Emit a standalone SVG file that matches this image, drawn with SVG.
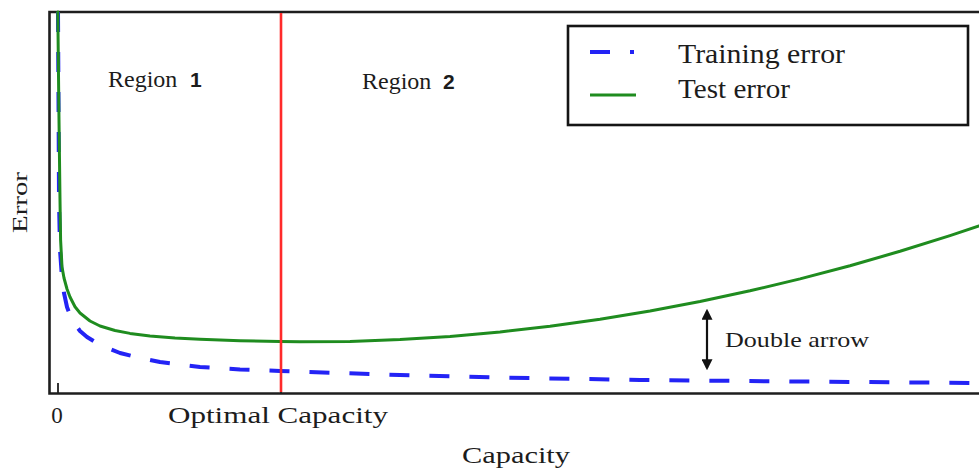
<svg xmlns="http://www.w3.org/2000/svg" width="979" height="473" viewBox="0 0 979 473">
  <style>
    .frame { fill: none; stroke: #1e1e1e; stroke-width: 2.6; }
    .tick { stroke: #1e1e1e; stroke-width: 1.8; }
    .train { fill: none; stroke: #2323f5; stroke-width: 4; stroke-dasharray: 20 20; stroke-linejoin: round; }
    .test { fill: none; stroke: #1f8c1f; stroke-width: 3; stroke-linejoin: round; stroke-linecap: round; }
    .optimal { stroke: #ff2a2a; stroke-width: 2.6; }
    .serif { font-family: "Liberation Serif", "Times New Roman", serif; fill: #1c1c1c; }
    .cm { font-family: "DejaVu Serif", "Liberation Serif", serif; fill: #1c1c1c; }
    .arrow { stroke: #111; stroke-width: 2.2; }
  </style>
  <defs>
    <marker id="head" viewBox="0 0 10 10" refX="8" refY="5" markerWidth="5" markerHeight="5" orient="auto-start-reverse">
      <path d="M0,0 L10,5 L0,10 Z" fill="#111"/>
    </marker>
  </defs>

  <rect width="979" height="473" fill="#ffffff"/>

  <!-- axes frame -->
  <g id="axes">
    <path class="frame" d="M979,12 H49.5 V393.5 H979"/>
    <line class="tick" x1="58" y1="393" x2="58" y2="383"/>
    <line class="tick" x1="281" y1="393" x2="281" y2="383"/>
    <line class="tick" x1="281" y1="12" x2="281" y2="22"/>
  </g>

  <!-- curves -->
  <g id="curves">
    <polyline id="training-error" class="train" points="58,12 58.6,120 59,200 60,250 62,278 64,293 67,307 72,320 80,331 87,337 100,345 120,353 140,358 160,362 200,367 240,369.5 280,371 340,373 400,375 500,377.5 640,380 800,381.5 979,383"/>
    <polyline id="test-error" class="test" points="57.8,12 59,120 60,200 60.6,240 62,267 64,278 67,289 70,297 75,306.8 80,313 90,321 100,326 115,330.5 130,333.4 150,335.9 175,337.9 200,339.2 240,340.7 280,341.6 300,341.8 350,341.4 400,339.6 450,336.4 500,332 550,326.2 600,319.2 650,311 700,301.5 750,290.8 800,278.9 850,265.7 900,251.3 950,235.6 979,226"/>
  </g>

  <!-- optimal capacity marker -->
  <g id="optimal-line">
    <line class="optimal" x1="281" y1="13" x2="281" y2="392"/>
  </g>

  <!-- region labels -->
  <g id="region-1">
    <text class="serif" x="108" y="87" font-size="24">Region</text>
    <text x="190" y="87" font-size="21" font-weight="bold" font-family="Liberation Sans, Arial, sans-serif" fill="#1c1c1c">1</text>
  </g>
  <g id="region-2">
    <text class="serif" x="362" y="89" font-size="24">Region</text>
    <text x="443" y="89" font-size="21" font-weight="bold" font-family="Liberation Sans, Arial, sans-serif" fill="#1c1c1c">2</text>
  </g>

  <!-- legend -->
  <g id="legend">
    <rect x="568" y="26" width="400" height="99" fill="#ffffff" stroke="#151515" stroke-width="2.6"/>
    <line x1="590" y1="52" x2="610" y2="52" stroke="#2323f5" stroke-width="4"/>
    <line x1="630" y1="52" x2="634" y2="52" stroke="#2323f5" stroke-width="4"/>
    <line x1="590" y1="95" x2="636" y2="95" stroke="#1f8c1f" stroke-width="3"/>
    <text class="serif" x="678" y="63" font-size="28" textLength="167" lengthAdjust="spacingAndGlyphs">Training error</text>
    <text class="serif" x="678" y="98" font-size="28" textLength="112" lengthAdjust="spacingAndGlyphs">Test error</text>
  </g>

  <!-- gap annotation -->
  <g id="double-arrow">
    <line class="arrow" x1="707" y1="311" x2="707" y2="368" marker-start="url(#head)" marker-end="url(#head)"/>
    <text class="serif" x="725" y="347" font-size="22" textLength="144" lengthAdjust="spacingAndGlyphs">Double arrow</text>
  </g>

  <!-- axis labels -->
  <g id="axis-labels">
    <text class="serif" x="57" y="423" font-size="23" text-anchor="middle">0</text>
    <text class="serif" x="168" y="423" font-size="23" textLength="220" lengthAdjust="spacingAndGlyphs">Optimal Capacity</text>
    <text class="serif" x="462" y="463" font-size="24" textLength="108" lengthAdjust="spacingAndGlyphs">Capacity</text>
    <text class="serif" transform="translate(27,233) rotate(-90)" x="0" y="0" font-size="22" textLength="61" lengthAdjust="spacingAndGlyphs">Error</text>
  </g>
</svg>
